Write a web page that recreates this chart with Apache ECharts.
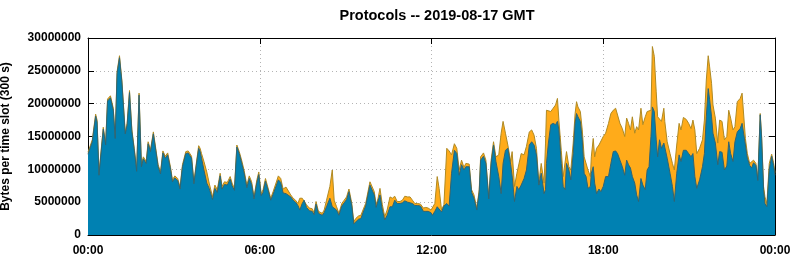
<!DOCTYPE html>
<html><head><meta charset="utf-8">
<script src="https://cdn.jsdelivr.net/npm/echarts@6/dist/echarts.min.js"></script>
<style>html,body{margin:0;padding:0;background:#fff}#c{width:795px;height:260px}</style>
</head><body><div id="c"></div>
<script>
// time of each reading, in minutes after 00:00
const minutes = [0,9,16,19,23,27,32,37,41,47,53,57,61,66,71,78,82,87,92,97,102,107,112,116,122,126,131,137,142,147,152,157,162,167,173,177,182,188,193,198,205,210,217,222,227,232,
235,238,243,249,254,261,266,271,277,281,286,292,298,302,307,312,317,322,327,333,338,343,348,354,358,363,367,372,378,383,388,394,399,404,409,415,419,425,430,435,440,444,449,453,458,464,470,474,478,483,
486,491,495,500,507,512,516,521,526,532,537,542,547,553,557,561,567,572,578,582,586,591,595,600,604,608,612,617,622,627,633,638,643,648,654,659,664,670,675,680,685,691,697,703,708,713,719,
722,727,732,736,741,746,752,757,762,768,773,778,783,788,792,799,804,809,815,820,823,829,834,840,845,850,855,861,866,870,875,880,886,889,894,899,903,908,914,919,925,930,935,940,945,950,956,959,
961,965,970,975,980,984,987,992,996,1000,1003,1008,1012,1017,1021,1024,1027,1032,1036,1040,1044,1048,1053,1055,1059,1062,1066,1071,1075,1080,1085,1091,1096,1101,1106,1110,1115,1120,1125,1129,1133,1137,1141,1146,1150,1154,1159,1163,1168,1172,1176,1180,1183,1187,1191,1194,1198,1202,1207,
1209,1214,1220,1225,1229,1234,1239,1243,1248,1254,1259,1264,1268,1272,1276,1282,1288,1292,1296,1300,1303,1307,1310,1315,1320,1324,1329,1334,1339,1343,1347,1352,1356,1361,1367,1371,1374,1378,1382,1387,1391,1395,1400,1404,1409,1412,1416,1419,1423,1428,1433,1437,1440];

// total (top of orange), millions of bytes per slot
const totalM = [12.6,14.5,18.4,17.5,9.4,9.1,16.4,14,20.7,21.2,19.3,15,24.9,27.3,23.6,15.7,17,22,16,13.2,10,21.6,10.7,11.9,11.2,14.2,13,15.7,13.2,10.7,9.6,12.8,12,12.5,10.3,8.4,9,8.6,7.3,10.7,12.7,12.8,12,8.1,10.9,13.6,
13.2,12.4,11.2,9.6,7.9,5.8,7.6,6.9,9.4,7.4,8.1,8,8.9,7.9,7.1,13.7,12.7,11.4,9.9,7.6,9,8.1,5.8,8.4,9.6,6.3,6.9,8.6,7,5.6,6.6,7.9,9,8.6,7,7.3,7.1,6.1,5.6,5.3,4.8,5.6,5.6,5.8,4.6,4.1,4,3.4,5.1,3.6,
3.8,3.3,3.8,5.3,7.4,9.9,5.3,4.3,3.3,4.8,5.3,5.8,7,4.8,2,2.5,2.9,3,4.1,4.8,4.6,8.1,7.8,6.6,4.6,5.6,7.1,4.6,2.8,3.8,5.8,5.6,5.9,5.1,5.1,5.3,5.9,5.8,5.8,5.3,4.8,4.8,4.7,4.1,4.2,4.1,3.8,
3.6,4.8,8.9,7.1,3.8,4.6,13.2,12.8,12.2,13.9,13.2,9.9,11.4,10.3,10.9,10.8,6.9,6.1,4.1,6.9,11.9,12.5,11.4,5.8,11.4,14.2,11.9,12.2,15.5,17.3,15.5,13.7,11.2,12.7,7.4,9.4,9.4,12.4,12.2,13.5,15.7,16,15.2,13.2,7.9,10.9,7.9,14,
19,19.3,18.8,19.3,19.8,20.8,17.5,12.9,8.9,8.6,12.7,10.4,9.9,14,18.5,20.3,19.5,18.8,16,11.9,11.7,9.9,8.9,11.9,14.7,11.9,13.2,13.7,13.4,15,15.5,17,18.5,19,19.3,19,17,16.2,15,17.8,17,16,18,15.5,16.5,16,19.3,16.8,18,18.8,18.8,19,28.7,27.2,21.8,18,18.3,17.3,19.3,
17.3,14.2,12.4,10.9,9.9,13.7,17,16,17.9,17.6,17,16.2,17.5,16,12.4,13.2,14.5,17.5,23.6,27.3,25.6,23.1,19.8,17.8,14,17.5,17.3,14.5,15,19,17.8,16,16.5,20.3,20.8,21.6,21.3,14.7,12.4,10.9,10.7,11.4,10.9,8.6,18.5,15,7.4,5.8,4.8,10.9,12.3,11,9.5];

// blue (lower) layer, millions of bytes per slot
const blueM = [12.3,14.2,18.1,17.2,9.1,8.8,16.1,13.7,20.4,20.9,19,14.7,24.6,27,23.3,15.4,16.7,21.7,15.7,12.9,9.7,21.3,10.4,11.6,10.9,13.9,12.7,15.4,12.9,10.4,9.3,12.5,11.7,12.2,10,8.1,8.7,8.3,7,10.4,12.4,12.5,11.7,7.8,10.6,13.2,
12.7,11.7,9.9,7.9,7.1,5.4,7.1,6.5,9,7,7.7,7.6,8.5,7.5,6.8,13.4,12.4,11,9.5,7.2,8.6,7.7,5.5,8,9.2,6,6.5,8.2,6.7,5.3,6.2,7.4,8.4,8,6.4,6.3,6.6,5.8,5.3,5,4.5,3.8,4.8,5.3,4.2,3.7,3.6,3.1,4.7,3.3,
3.5,3,3.4,4.3,5.6,4.3,4,3.8,3,4.4,4.9,5.4,6.6,4.4,1.7,2,2.4,2.5,3.7,4.4,4.2,7.6,7.3,6.1,4.2,5.2,6.1,3.8,2.3,3,4.3,4.3,5.3,4.8,4.8,4.9,5.2,5,4.9,4.8,4.5,4.5,4.4,3.6,3.6,3.6,3.4,
3,3.6,4.3,4.1,3.5,4.4,4.8,4.4,9.4,12.9,12.4,9.1,10.7,9.9,10.4,10.4,6.5,5.6,3.8,6.5,11.4,12,10.9,5.5,10.9,13.7,11.2,8.9,6.3,10.9,12.9,13.2,10.7,9,5.1,7.4,6.9,7.6,8.6,9.9,13.7,14.2,13.7,12.2,7.6,9.4,6.3,6.9,
10.9,14,16.8,17,16.8,17.3,16,10.9,7.4,6.9,10.9,9.9,8.4,12.4,17,18.5,18,17.3,14.5,9.4,8.9,7.1,7.4,9.4,10.4,7.9,6.3,7,6.6,7.4,8.9,8.9,10.9,12.7,12.8,12.4,11.4,10.4,9.1,11.4,10.7,10.2,8.9,7.9,6.1,5.1,8.6,7.6,6.9,9.9,10.4,15,19.5,18.8,14.5,11.9,14.5,13.2,14,
13.7,11.7,9.4,7.4,5.1,9.4,12.2,11.2,12.9,12.9,12.4,11.9,12.4,8.9,7.1,8.4,10.4,12.4,18,22.3,20.6,18,15.5,14,10.7,12.7,12.6,9.9,10.5,14.2,12.4,11.2,14.2,15.7,16.2,17,17,13.7,11.7,10.6,10.2,11,10.6,8.3,18.3,14.7,6.9,4.8,4.3,10,12,10.6,9.1];

const yTicks = [0, 5000000, 10000000, 15000000, 20000000, 25000000, 30000000];
const xTickLabels = ['00:00', '06:00', '12:00', '18:00', '00:00'];

const M = 1e6;
const totalData = minutes.map((t, i) => [t, totalM[i] * M]);
const blueData = minutes.map((t, i) => [t, blueM[i] * M]);

const font = { fontFamily: 'Liberation Sans, Arial, sans-serif', fontWeight: 'bold', fontSize: 12, color: '#000' };
const gridLine = { show: true, lineStyle: { color: '#b4b4b4', width: 1, type: [1, 3] } };
const axisLine = { show: true, onZero: false, lineStyle: { color: '#000', width: 1 } };
const tick = { show: true, inside: true, length: 6, lineStyle: { color: '#000', width: 1 } };

const chart = echarts.init(document.getElementById('c'), null, { renderer: 'canvas' });
chart.setOption({
  animation: false,
  backgroundColor: '#fff',
  title: {
    text: 'Protocols -- 2019-08-17 GMT',
    left: 432, top: 3, textAlign: 'center',
    textStyle: { fontFamily: 'Liberation Sans, Arial, sans-serif', fontWeight: 'bold', fontSize: 14.5, color: '#000' }
  },
  grid: { left: 88, right: 20, top: 38, bottom: 25, containLabel: false, outerBoundsMode: 'none' },
  xAxis: [{
    type: 'value', min: 0, max: 1440, interval: 360, position: 'bottom',
    axisLine: axisLine, axisTick: tick, splitLine: gridLine,
    axisLabel: Object.assign({}, font, { margin: 10, formatter: v => xTickLabels[Math.round(v / 360)] })
  }, {
    type: 'value', min: 0, max: 1440, interval: 360, position: 'top',
    axisLine: axisLine, axisTick: tick, splitLine: { show: false }, axisLabel: { show: false }
  }],
  yAxis: [{
    type: 'value', min: yTicks[0], max: yTicks[yTicks.length - 1], interval: 5000000, position: 'left',
    name: 'Bytes per time slot (300 s)', nameLocation: 'middle', nameGap: 76, nameRotate: 90,
    nameTextStyle: font,
    axisLine: axisLine, axisTick: tick, splitLine: gridLine,
    axisLabel: Object.assign({}, font, { margin: 7, formatter: v => String(v) })
  }, {
    type: 'value', min: yTicks[0], max: yTicks[yTicks.length - 1], interval: 5000000, position: 'right',
    axisLine: axisLine, axisTick: tick, splitLine: { show: false }, axisLabel: { show: false }
  }],
  series: [{
    name: 'total', type: 'line', data: totalData, showSymbol: false, symbol: 'none', z: 2,
    lineStyle: { color: '#b08a22', width: 1 },
    areaStyle: { color: '#ffab1a', opacity: 1, origin: 'start' },
    itemStyle: { color: '#ffab1a' }
  }, {
    name: 'blue', type: 'line', data: blueData, showSymbol: false, symbol: 'none', z: 3,
    lineStyle: { color: '#2f6474', width: 1 },
    areaStyle: { color: '#0081b2', opacity: 1, origin: 'start' },
    itemStyle: { color: '#0081b2' }
  }]
});
</script></body></html>
